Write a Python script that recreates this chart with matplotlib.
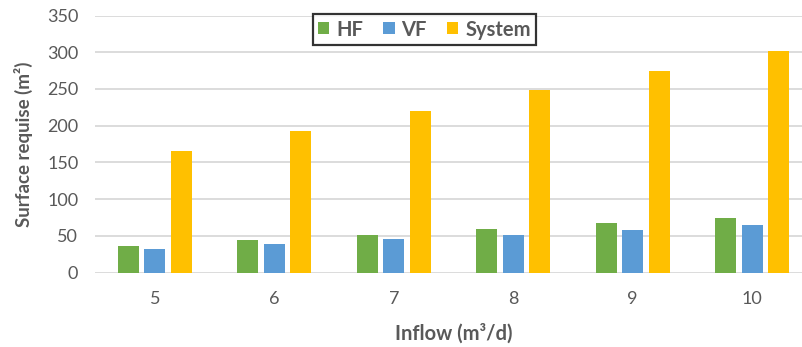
import matplotlib
matplotlib.use("Agg")
import matplotlib.pyplot as plt
import numpy as np

plt.rcParams['font.family'] = ['Lato', 'DejaVu Sans']

inflow = ["5", "6", "7", "8", "9", "10"]
hf = [36.5, 44, 51.5, 59, 67, 74.5]
vf = [32, 38.5, 45, 51.5, 58, 65]
system = [166, 193, 220, 248, 275, 302]

series = [("HF", hf, "#70ad47"), ("VF", vf, "#5b9bd5"), ("System", system, "#ffc000")]

fig = plt.figure(figsize=(8.02, 3.47), dpi=100)
ax = fig.add_axes([95 / 802, 74.5 / 347, 717 / 802, 257 / 347])

x = np.arange(len(inflow))
width = 0.176
step = 0.223
for i, (name, vals, color) in enumerate(series):
    ax.bar(x + (i - 1) * step, vals, width, color=color, label=name, zorder=3)

ax.set_xlim(-0.5, len(inflow) - 0.5)
ax.set_ylim(0, 350)
ax.set_yticks(range(0, 351, 50))
ax.set_xticks(x)
ax.set_xticklabels(inflow)

grey = "#595959"
ax.tick_params(axis='both', length=0, labelsize=13, colors=grey)
ax.tick_params(axis='x', pad=13)
ax.tick_params(axis='y', pad=12)
ax.grid(axis='y', color="#d9d9d9", linewidth=1.3, zorder=0)
for s in ax.spines.values():
    s.set_visible(False)

ax.set_ylabel("Surface requise (m²)", fontsize=13.5, fontweight='bold', color=grey, labelpad=10)
ax.set_xlabel("Inflow (m³/d)", fontsize=14.5, fontweight='bold', color=grey, labelpad=12)

leg = fig.legend(loc='center', bbox_to_anchor=(424.5 / 802, 1 - 29.5 / 347), ncol=3,
                 frameon=True, fancybox=False, fontsize=14.5, handlelength=0.55,
                 handleheight=0.55, handletextpad=0.35, columnspacing=1.0,
                 borderpad=0.25, borderaxespad=0)
leg.get_frame().set_edgecolor("black")
leg.get_frame().set_linewidth(1.6)
for t in leg.get_texts():
    t.set_color(grey)
    t.set_fontweight('bold')

fig.savefig("out.png", dpi=100)
